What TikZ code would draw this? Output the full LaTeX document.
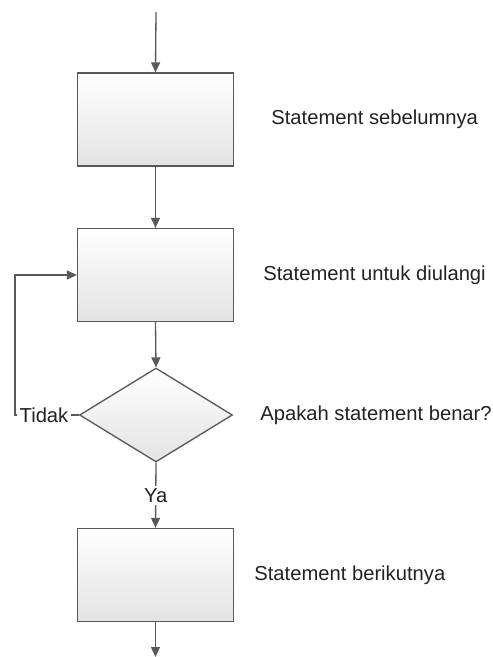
\documentclass[tikz,border=0pt]{standalone}
\usepackage{fontspec}
\setmainfont{Liberation Sans}
\usetikzlibrary{calc,positioning,arrows.meta,shapes.geometric}

\definecolor{linegray}{HTML}{595959}
\definecolor{textgray}{HTML}{222222}

\tikzset{
  flowbox/.style={rectangle,draw=linegray,line width=0.75pt,top color=white,bottom color=black!11,minimum width=3.12cm,minimum height=1.86cm,inner sep=0},
  flowdia/.style={diamond,draw=linegray,line width=0.75pt,top color=white,bottom color=black!11,minimum width=3.06cm,minimum height=1.88cm,inner sep=0},
  flowline/.style={draw=linegray,line width=0.75pt},
  flowarrow/.style={flowline,-{Triangle[length=0.2cm,width=0.18cm]}},
  remark/.style={anchor=west,inner sep=0,text=textgray,font=\fontsize{11.5}{14}\selectfont}
}

\begin{document}
\begin{tikzpicture}[x=0.02cm,y=-0.02cm]

  \useasboundingbox (0,0) rectangle (493,657);

  \coordinate (start) at(156,12);
  \coordinate (finish) at(155.5,657);
  \coordinate (loop) at(15,415);

  \node (box_1) [flowbox] at(155.5,119.5) {};
  \node (box_2) [flowbox] at(155.5,275) {};
  \node (check) [flowdia] at(156,415) {};
  \node (box_3) [flowbox] at(155.5,575) {};

  \node (tidak) [fill=white,inner sep=1.5pt,text=textgray,font=\fontsize{11.5}{14}\selectfont] at(44,415) {Tidak};

  \foreach \name/\x/\y/\txt in {rem_1/271/119.5/{Statement sebelumnya},
                                rem_2/263/275/{Statement untuk diulangi},
                                rem_3/260/415/{Apakah statement benar?},
                                rem_4/254/575/{Statement berikutnya}}
           {
             \node (\name) [remark] at(\x,\y) {\txt};
           }

  \draw [flowarrow] (start) -- (box_1.north);
  \draw [flowarrow] (box_1.south) -- (box_2.north);
  \draw [flowarrow] (box_2.south) -- (check.north);
  \draw [flowarrow] (check.south) -- node [fill=white,inner sep=1.5pt,text=textgray,font=\fontsize{11.5}{14}\selectfont] {Ya} (box_3.north);
  \draw [flowarrow] (box_3.south) -- (finish);

  \draw [flowline] (check.west) -- (tidak.east);
  \draw [flowarrow] (tidak.west) -- (loop) |- (box_2.west);

\end{tikzpicture}
\end{document}
